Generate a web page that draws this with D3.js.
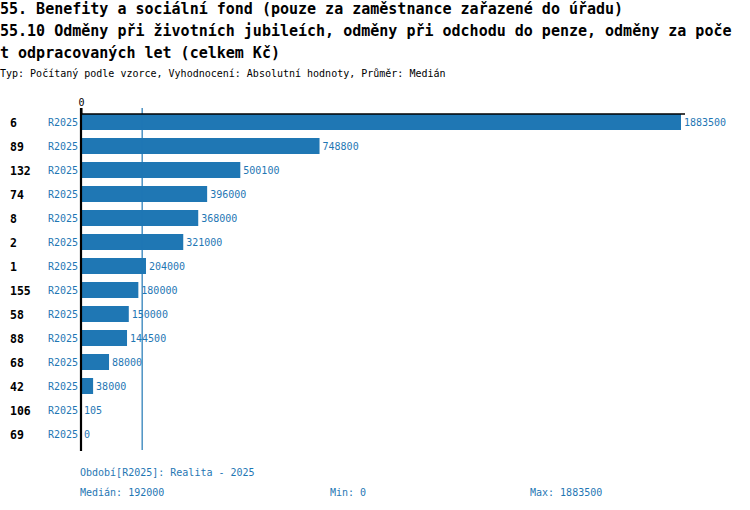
<!DOCTYPE html>
<html lang="cs">
<head>
<meta charset="UTF-8" />
<script src="https://d3js.org/d3.v7.min.js"></script>
<title>55.10</title>
<style>
  body { margin: 0; background: #fff; }
  text { font-family: "DejaVu Sans Mono", "Liberation Mono", monospace; }
</style>
</head>
<body>
<script type="text/javascript">

var titleLines = [
  "55. Benefity a sociální fond (pouze za zaměstnance zařazené do úřadu)",
  "55.10 Odměny při životních jubileích, odměny při odchodu do penze, odměny za poče",
  "t odpracovaných let (celkem Kč)"
];
var subtitle = "Typ: Počítaný podle vzorce, Vyhodnocení: Absolutní hodnoty, Průměr: Medián";

var categories = ["6", "89", "132", "74", "8", "2", "1", "155", "58", "88", "68", "42", "106", "69"];
var values = [1883500, 748800, 500100, 396000, 368000, 321000, 204000, 180000, 150000, 144500, 88000, 38000, 105, 0];
var seriesName = "R2025";
var median = 192000;
var minValue = 0;
var maxValue = 1883500;
var tickValues = [0];

var width = 750, height = 510;
var blue = "#1f77b4";

var svg = d3.select("body").append("svg").attr("width", width).attr("height", height);

// titles
svg.append("g").selectAll("text").data(titleLines).enter().append("text")
  .attr("x", 0).attr("y", function(d, i){ return 14 + i * 22; })
  .attr("font-size", "15px").attr("font-weight", "bold").attr("fill", "#000")
  .text(function(d){ return d; });
svg.append("text").attr("x", 0).attr("y", 77).attr("font-size", "10px").attr("fill", "#000").text(subtitle);

var data = categories.map(function(c, i){ return { cat: c, value: values[i] }; });

var x = d3.scaleLinear().domain([0, maxValue]).range([81, 681]);
var y = d3.scaleBand().domain(categories).range([110, 446]).paddingInner(1/3).paddingOuter(1/6);

// bars
svg.append("g").selectAll("rect").data(data).enter().append("rect")
  .attr("x", x(0)).attr("y", function(d){ return y(d.cat); })
  .attr("width", function(d){ return x(d.value) - x(0); })
  .attr("height", y.bandwidth())
  .attr("fill", blue);

// value labels
svg.append("g").selectAll("text").data(data).enter().append("text")
  .attr("x", function(d){ return x(d.value) + 3; })
  .attr("y", function(d){ return y(d.cat) + y.bandwidth() / 2 + 4; })
  .attr("font-size", "10px").attr("fill", blue)
  .text(function(d){ return d.value; });

// category labels
svg.append("g").selectAll("text").data(data).enter().append("text")
  .attr("x", 10).attr("y", function(d){ return y(d.cat) + y.bandwidth() / 2 + 4.5; })
  .attr("font-size", "11.5px").attr("font-weight", "bold").attr("fill", "#000")
  .text(function(d){ return d.cat; });

// series labels
svg.append("g").selectAll("text").data(data).enter().append("text")
  .attr("x", 78).attr("y", function(d){ return y(d.cat) + y.bandwidth() / 2 + 4; })
  .attr("text-anchor", "end")
  .attr("font-size", "10px").attr("fill", blue)
  .text(seriesName);

// median line
svg.append("line")
  .attr("x1", x(median)).attr("x2", x(median))
  .attr("y1", 108).attr("y2", 450)
  .attr("stroke", blue).attr("stroke-width", 1.2);

// top axis
var axis = d3.axisTop(x).tickValues(tickValues).tickSize(6).tickSizeOuter(0);
var ag = svg.append("g").attr("transform", "translate(0,114)").call(axis);
ag.select(".domain").remove();
ag.selectAll("text").attr("font-size", "10px").attr("fill", "#000").attr("font-family", "DejaVu Sans Mono").attr("dy", "0.1em");
ag.selectAll(".tick line").attr("stroke", "#000").attr("stroke-width", 2);
svg.append("line")
  .attr("x1", x(0)).attr("x2", x(maxValue) + 4)
  .attr("y1", 114).attr("y2", 114)
  .attr("stroke", "#000").attr("stroke-width", 1.5);

// zero line
svg.append("line")
  .attr("x1", x(0)).attr("x2", x(0))
  .attr("y1", 108).attr("y2", 451)
  .attr("stroke", "#000").attr("stroke-width", 2.2);

// footer
svg.append("text").attr("x", 80).attr("y", 476).attr("font-size", "10px").attr("fill", blue)
  .text("Období[" + seriesName + "]: Realita - 2025");
var footer = [
  { x: 80, t: "Medián: " + median },
  { x: 330, t: "Min: " + minValue },
  { x: 530, t: "Max: " + maxValue }
];
svg.append("g").selectAll("text").data(footer).enter().append("text")
  .attr("x", function(d){ return d.x; }).attr("y", 496)
  .attr("font-size", "10px").attr("fill", blue)
  .text(function(d){ return d.t; });

</script>
</body>
</html>
